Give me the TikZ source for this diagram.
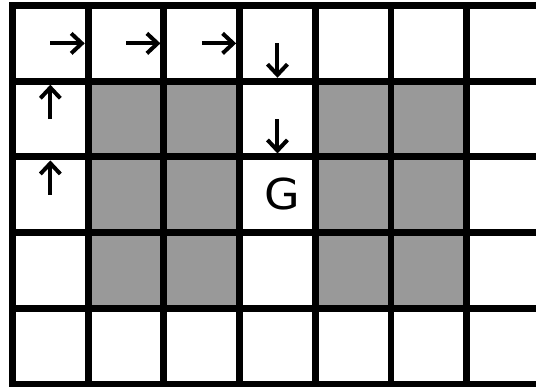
\documentclass[tikz,border=0pt]{standalone}
\usepackage{fontspec}
\setmainfont{DejaVu Sans}
\usetikzlibrary{arrows.meta}

\begin{document}
\begin{tikzpicture}[
    cell/.style={draw, line width=2.6pt, minimum size=1cm, inner sep=0pt, outer sep=0pt, fill=white},
    wall/.style={cell, fill=gray!80},
    move/.style={-{Straight Barb[length=4pt, width=7.5pt]}, line width=1.5pt, shorten >=1.3pt},
    goal/.style={font=\fontsize{16}{19}\selectfont, inner sep=0pt}
]
\useasboundingbox (-0.165,-0.026) rectangle (6.915,5.073);
\clip (-0.165,-0.026) rectangle (6.915,5.073);

% Free cells
\foreach \x in {0,...,7}
  \foreach \y in {0,...,4}
    \node[cell] (c-\x-\y) at (\x+0.5,\y+0.5) {};

% Walls
\foreach \x in {1,2,4,5}
  \foreach \y in {1,2,3}
    \node[wall] (c-\x-\y) at (\x+0.5,\y+0.5) {};

% Policy arrows
\foreach \x in {0,1,2}
  \draw[move] (c-\x-4.center) -- (c-\x-4.east);
\draw[move] (c-0-3.center) -- (c-0-3.north);
\draw[move] (c-0-2.center) -- (c-0-2.north);
\draw[move] (c-3-4.center) -- (c-3-4.south);
\draw[move] (c-3-3.center) -- (c-3-3.south);

% Goal
\node[goal, xshift=0.06cm, yshift=0.015cm] (goal) at (c-3-2) {\scalebox{1.08}[1]{G}};

\end{tikzpicture}
\end{document}
